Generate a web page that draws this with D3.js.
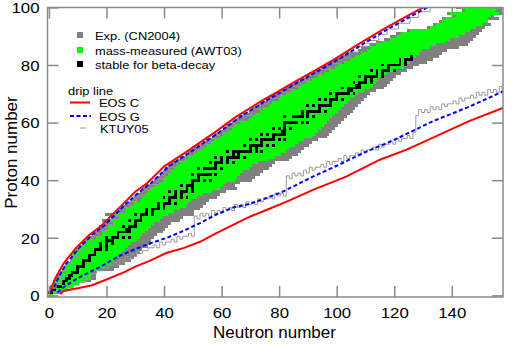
<!DOCTYPE html>
<html><head><meta charset="utf-8">
<script src="https://cdn.jsdelivr.net/npm/d3@7"></script>
<style>
body{margin:0;background:#fff}
svg{display:block}
text{font-family:"Liberation Sans",Arial,Helvetica,sans-serif;fill:#000}
</style>
</head><body>
<svg id="c" width="512" height="345"></svg>
<script>
// ---- data (index = proton number Z) ----
const expLo = [1,0,1,1,2,2,3,3,4,5,6,6,8,8,8,9,10,11,12,13,14,16,16,18,18,20,19,22,20,24,24,26,27,29,30,31,32,33,34,36,37,38,39,40,41,42,43,45,46,48,49,51,52,54,55,57,58,60,61,62,64,66,67,68,70,71,73,74,76,77,79,81,83,84,86,88,90,91,93,95,96,98,100,102,104,108,109,112,114,117,119,121,125,132,134,136,137,141,139,144,142];
const expHi = [1,4,6,8,10,14,16,16,16,22,24,26,28,29,30,31,32,34,35,35,36,37,39,40,41,42,45,46,50,50,52,53,54,55,58,59,61,65,64,66,70,71,73,74,76,77,78,83,84,86,87,88,90,91,93,96,97,98,99,100,101,102,103,104,105,106,107,108,109,110,111,113,116,117,118,119,120,122,124,126,128,131,133,135,136,138,142,145,146,147,148,149,150,151,153,152,156,154,158,157,159];
const massLo = [1,0,1,2,2,3,3,4,4,5,6,7,8,9,8,10,11,12,13,14,17,19,19,21,21,23,22,25,23,27,27,29,30,32,33,34,35,36,37,39,40,41,42,43,44,45,46,48,49,51,52,54,55,57,58,60,61,63,64,65,67,70,71,72,74,75,77,78,80,81,83,85,87,88,90,92,94,96,98,100,101,103,105,107,109,111,112,114,116,119,121,123,126,133,135,137,138,142,140,145,144];
const massHi = [1,2,6,8,10,12,14,14,14,17,19,21,22,23,24,25,26,27,28,30,31,32,33,34,35,36,38,39,41,43,45,47,48,49,51,53,56,59,60,61,64,65,66,67,69,70,72,76,78,80,82,83,85,86,88,91,92,93,94,95,96,97,98,99,100,101,102,103,104,106,107,109,111,112,113,114,115,117,120,123,124,125,126,127,128,129,132,134,137,139,142,144,146,148,150,152,152,153,156,155,157];
// stable nuclei: mass numbers A per Z
const stableA = [[],[1,2],[3,4],[6,7],[9],[10,11],[12,13],[14,15],[16,17,18],[19],[20,21,22],[23],[24,25,26],[27],[28,29,30],[31],[32,33,34,36],[35,37],[36,38,40],[39,40,41],[40,42,43,44,46,48],[45],[46,47,48,49,50],[50,51],[50,52,53,54],[55],[54,56,57,58],[59],[58,60,61,62,64],[63,65],[64,66,67,68,70],[69,71],[70,72,73,74,76],[75],[74,76,77,78,80,82],[79,81],[78,80,82,83,84,86],[85,87],[84,86,87,88],[89],[90,91,92,94,96],[93],[92,94,95,96,97,98,100],[],[96,98,99,100,101,102,104],[103],[102,104,105,106,108,110],[107,109],[106,108,110,111,112,113,114,116],[113,115],[112,114,115,116,117,118,119,120,122,124],[121,123],[120,122,123,124,125,126,128,130],[127],[124,126,128,129,130,131,132,134,136],[133],[130,132,134,135,136,137,138],[138,139],[136,138,140,142],[141],[142,143,144,145,146,148,150],[],[144,147,148,149,150,152,154],[151,153],[152,154,155,156,157,158,160],[159],[156,158,160,161,162,163,164],[165],[162,164,166,167,168,170],[169],[168,170,171,172,173,174,176],[175,176],[174,176,177,178,179,180],[180,181],[180,182,183,184,186],[185,187],[184,186,187,188,189,190,192],[191,193],[190,192,194,195,196,198],[197],[196,198,199,200,201,202,204],[203,205],[204,206,207,208],[209]];

// drip lines [N, Z]
const eosCp = [[0,1],[0.7,2],[2,5.5],[5,11],[9.4,16.5],[14,21],[18,24],[25,31],[30,36],[34.2,39],[40,44.7],[48,50],[57.5,56.5],[65,62],[73.5,67.3],[80,71],[86,74.5],[93,78.4],[100,82.5],[108,87.5],[116,92.3],[123,96.2],[130,100]];
const eosGp = [[0.5,1],[1.5,2],[3,5.5],[6,11],[10.5,16.5],[15,21],[19,24],[26,31],[31.5,36],[35.5,39],[41.5,44.7],[49.5,50],[59,56.5],[66.5,62],[75,67.3],[81.5,71],[87.5,74.5],[94.5,78.4],[101.5,82.5],[109.5,87.5],[117.5,92.3],[124.5,96.2],[131.5,100]];
const eosCn = [[4,0.5],[5,1.5],[10,2.5],[15,3.5],[20,5.5],[26,8],[30,10],[35,12],[41,14.8],[47,16.5],[52.7,18.7],[58,21.5],[64,24.5],[70,27.4],[76,29.8],[82,32.3],[92,36.7],[103.5,41.3],[115,47.1],[124.3,50.6],[135,55.5],[146,60.5],[158,65.2]];
const eosGn = [[3,1],[5.3,3],[10,6],[18,10],[24,13.5],[29.6,15.9],[35,18],[41,20],[47,22.5],[52.7,25.2],[58,28],[64,30.5],[70,31.8],[80.4,35.6],[91.9,41.3],[100,45],[109.3,49.5],[120,54],[133.5,60.5],[146,65.5],[158,70.9]];
// KTUY05 neutron drip: lowest bound Z for N = 2..158
const ktuyNn = d3.range(2,159);
const ktuyNz = [1,2,1,2,2,3,3,4,4,5,5,7,7,8,8,9,9,10,10,11,11,12,11,13,12,14,13,15,14,16,15,16,16,17,17,18,17,19,18,19,19,20,19,21,20,21,21,22,21,28,27,29,28,29,28,30,29,30,29,31,30,31,30,32,31,32,31,33,32,33,32,34,33,34,34,35,34,36,35,36,35,42,41,43,42,43,42,44,43,45,44,45,45,46,45,47,46,47,47,48,47,49,48,49,49,50,49,51,50,51,51,52,51,53,52,53,53,54,53,55,54,55,55,56,55,57,63,65,64,65,64,66,65,66,65,67,66,67,67,68,67,69,68,69,69,70,69,71,70,71,70,72,71,72,71,73,72];
// KTUY05 proton drip: lowest bound N for Z = 1..100
const ktuyPz = d3.range(1,101);
const ktuyPn = [0,1,3,3,5,4,6,5,7,6,9,8,11,10,12,11,14,13,16,15,18,17,21,20,23,22,25,24,27,26,29,28,31,30,33,33,36,35,39,38,41,40,43,42,45,45,48,48,51,51,54,53,57,56,60,59,63,62,65,65,68,68,71,71,74,74,77,77,81,81,85,84,88,88,91,91,95,95,98,98,102,102,105,105,108,108,112,111,115,115,118,118,122,122,126,126,129,129,133,133];

const xTicks = [0,20,40,60,80,100,120,140];
const yTicks = [0,20,40,60,80,100];

// ---- drawing ----
const svg = d3.select("#c");
const x = d3.scaleLinear().domain([-0.5,157.8]).range([47.5,503]);
const y = d3.scaleLinear().domain([-0.5,100]).range([296.8,7.4]);
const FR = "#8a8a8a";

svg.append("defs").append("clipPath").attr("id","clip")
  .append("rect").attr("x",47.5).attr("y",7.4).attr("width",455.5).attr("height",289.4);
const plot = svg.append("g").attr("clip-path","url(#clip)");

function rows(lo,hi,color){
  plot.append("g").attr("shape-rendering","crispEdges")
    .selectAll("rect").data(d3.range(lo.length).filter(z=>hi[z]>=lo[z])).join("rect")
    .attr("x",z=>x(lo[z]-0.5)).attr("width",z=>x(hi[z]+0.5)-x(lo[z]-0.5))
    .attr("y",z=>y(z+0.5)).attr("height",z=>y(z-0.5)-y(z+0.5))
    .attr("fill",color);
}
rows(expLo,expHi,"#808080");
rows(massLo,massHi,"#00ff00");
const stable = [];
stableA.forEach((as,z)=>as.forEach(a=>stable.push({n:a-z,z:z})));
plot.append("g").attr("shape-rendering","crispEdges")
  .selectAll("rect").data(stable).join("rect")
  .attr("x",d=>x(d.n-0.5)).attr("width",d=>x(d.n+0.5)-x(d.n-0.5))
  .attr("y",d=>y(d.z+0.5)).attr("height",d=>y(d.z-0.5)-y(d.z+0.5))
  .attr("fill","#000");

// KTUY05 step lines
const ptsN = [];
ktuyNn.forEach((n,i)=>{ptsN.push([x(n-0.5),y(ktuyNz[i]-0.5)]);ptsN.push([x(n+0.5),y(ktuyNz[i]-0.5)]);});
const ptsP = [];
ktuyPz.forEach((z,i)=>{ptsP.push([x(ktuyPn[i]-0.5),y(z-0.5)]);ptsP.push([x(ktuyPn[i]-0.5),y(z+0.5)]);});
const lineRaw = d3.line();
[ptsN,ptsP].forEach(p=>plot.append("path").attr("d",lineRaw(p)).attr("fill","none").attr("stroke","#9a9a9a").attr("stroke-width",1));

const lineNZ = d3.line().x(d=>x(d[0])).y(d=>y(d[1]));
[eosCp,eosCn].forEach(p=>plot.append("path").attr("d",lineNZ(p)).attr("fill","none").attr("stroke","#ff0000").attr("stroke-width",2));
[eosGp,eosGn].forEach(p=>plot.append("path").attr("d",lineNZ(p)).attr("fill","none").attr("stroke","#0000ff").attr("stroke-width",2).attr("stroke-dasharray","4,2.5"));

// axes
function styleTicks(g){ g.select(".domain").remove(); g.selectAll(".tick line").attr("stroke",FR).attr("stroke-width",1.5); }
const gx = svg.append("g").attr("transform","translate(0,297)")
  .call(d3.axisBottom(x).tickValues(xTicks).tickSizeInner(-11).tickSizeOuter(0));
styleTicks(gx);
gx.selectAll(".tick text").attr("y",0).attr("dy",0).attr("font-size",15)
  .attr("transform","translate(0,21) scale(1.12,1)");
const gy = svg.append("g").attr("transform","translate(47.5,0)")
  .call(d3.axisLeft(y).tickValues(yTicks).tickSizeInner(-11).tickSizeOuter(0));
styleTicks(gy);
gy.selectAll(".tick text").attr("x",0).attr("dy",0).attr("font-size",15)
  .attr("transform","translate(-8,5.3) scale(1.12,1)");
const gt = svg.append("g").attr("transform","translate(0,7.5)")
  .call(d3.axisTop(x).tickValues(xTicks).tickSizeInner(-11).tickSizeOuter(0).tickFormat(()=>""));
styleTicks(gt);
const gr = svg.append("g").attr("transform","translate(503,0)")
  .call(d3.axisRight(y).tickValues(yTicks).tickSizeInner(-11).tickSizeOuter(0).tickFormat(()=>""));
styleTicks(gr);

svg.append("rect").attr("x",47.5).attr("y",7.5).attr("width",455.5).attr("height",289.5)
  .attr("fill","none").attr("stroke",FR).attr("stroke-width",1.5);

// titles
svg.append("text").attr("x",274.5).attr("y",338).attr("text-anchor","middle").attr("font-size",17).text("Neutron number");
svg.append("text").attr("transform","translate(16.5,152.5) rotate(-90)").attr("text-anchor","middle").attr("font-size",17).text("Proton number");

// legend
function ltxt(x0,y0,s){ svg.append("text").attr("transform",`translate(${x0},${y0}) scale(1.17,1)`).attr("font-size",11).text(s); }
const legSq = [["#808080",35,"Exp. (CN2004)"],["#00ff00",50,"mass-measured (AWT03)"],["#000000",64,"stable for beta-decay"]];
legSq.forEach(d=>{
  svg.append("rect").attr("x",77).attr("y",d[1]-3).attr("width",6).attr("height",6).attr("fill",d[0]);
  ltxt(95,d[1]+4.5,d[2]);
});
ltxt(68,94.5,"drip line");
svg.append("line").attr("x1",70).attr("x2",90).attr("y1",102.5).attr("y2",102.5).attr("stroke","#ff0000").attr("stroke-width",2);
ltxt(99,106.5,"EOS C");
svg.append("line").attr("x1",70).attr("x2",91).attr("y1",116).attr("y2",116).attr("stroke","#0000ff").attr("stroke-width",2).attr("stroke-dasharray","4,2.5");
ltxt(99,120.5,"EOS G");
svg.append("line").attr("x1",80).attr("x2",86).attr("y1",128).attr("y2",128).attr("stroke","#9a9a9a").attr("stroke-width",1);
ltxt(100,132.5,"KTUY05");
</script>
</body></html>
